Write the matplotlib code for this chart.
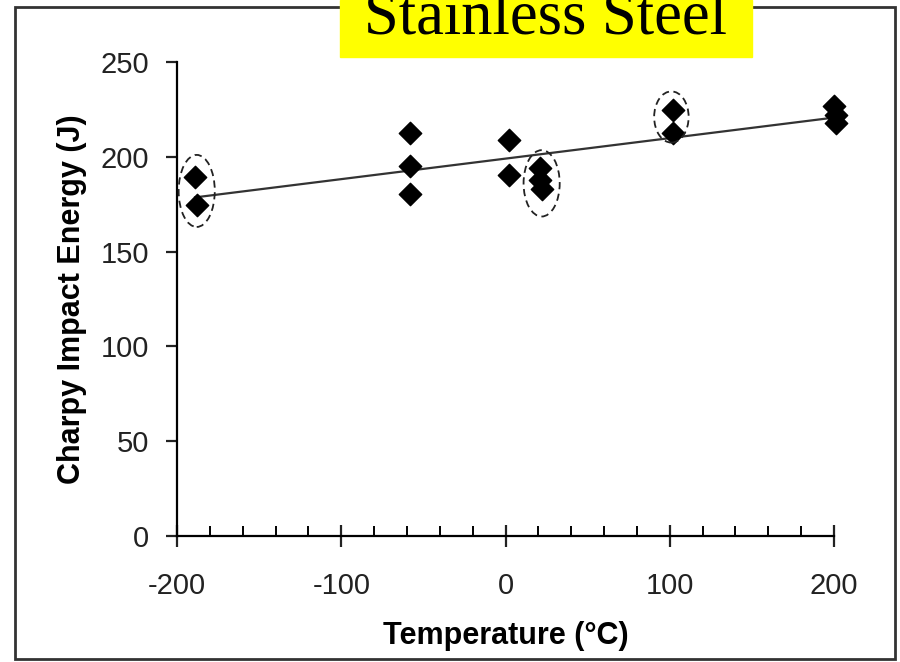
import numpy as np
import matplotlib.pyplot as plt
from matplotlib.patches import Ellipse, Rectangle

plt.rcParams['font.family'] = ['Liberation Sans', 'DejaVu Sans']
plt.rcParams['axes.unicode_minus'] = False

# measured Charpy values
temps = [-189, -188, -58, -58, -58, 2, 2, 21, 21, 22, 102, 102, 200, 201, 201]
energy = [189.5, 174.5, 212.5, 195, 180.5, 209, 190.5, 194, 188, 183, 224.5, 212.5, 227, 222, 218]

# dashed circles around highlighted groups (centre T, centre E, width, height)
circ_t = [-188, 22, 101]
circ_e = [182, 186, 221]
circ_w = [22, 22, 21]
circ_h = [38, 35, 27]

x_ticks = [-200, -100, 0, 100, 200]
y_ticks = [0, 50, 100, 150, 200, 250]

fig = plt.figure(figsize=(9, 6.62), dpi=100)
ax = fig.add_axes([177 / 900, 1 - 536 / 662, 657 / 900, 474 / 662])

# trend line over the measured range
k, b = np.polyfit(temps, energy, 1)
tx = np.array([min(temps), max(temps)])
ax.plot(tx, k * tx + b, color='#333333', lw=1.6, zorder=2)

ax.scatter(temps, energy, marker='D', s=130, color='black', zorder=3, clip_on=False)

for t, e, w, h in zip(circ_t, circ_e, circ_w, circ_h):
    ax.add_patch(Ellipse((t, e), w, h, fill=False, ls=(0, (4, 2.5)),
                         lw=1.3, color='#222222', zorder=4))

ax.set_xlim(-200, 200)
ax.set_ylim(0, 250)
ax.set_xticks(x_ticks)
ax.set_yticks(y_ticks)
ax.set_xticks(np.arange(-200, 201, 20), minor=True)
ax.spines['top'].set_visible(False)
ax.spines['right'].set_visible(False)
ax.spines['left'].set_linewidth(1.6)
ax.spines['bottom'].set_linewidth(1.6)
ax.tick_params(axis='x', which='major', direction='inout', length=16, width=1.6,
               labelsize=21, pad=18, colors='#222222')
ax.tick_params(axis='x', which='minor', direction='in', length=7, width=1.4)
ax.tick_params(axis='y', direction='out', length=8, width=1.6, labelsize=21, pad=12,
               colors='#222222')

ax.set_xlabel('Temperature (°C)', fontsize=22, fontweight='bold', labelpad=15)
ax.set_ylabel('Charpy Impact Energy (J)', fontsize=22, fontweight='bold', labelpad=10)

# outer frame
fig.add_artist(Rectangle((15 / 900, 1 - 659 / 662), 880 / 900, 652 / 662,
                         transform=fig.transFigure, fill=False, lw=2, ec='#333333'))

# yellow title box, cut off at the top like the slide
fig.add_artist(Rectangle((340 / 900, 1 - 57 / 662), 412 / 900, 57 / 662,
                         transform=fig.transFigure, color='#ffff00', zorder=5))
fig.text(546 / 900, 1 - 34 / 662, 'Stainless Steel', ha='center', va='baseline',
         fontsize=45, family='Liberation Serif', zorder=6)

fig.savefig('out.png', dpi=100)
